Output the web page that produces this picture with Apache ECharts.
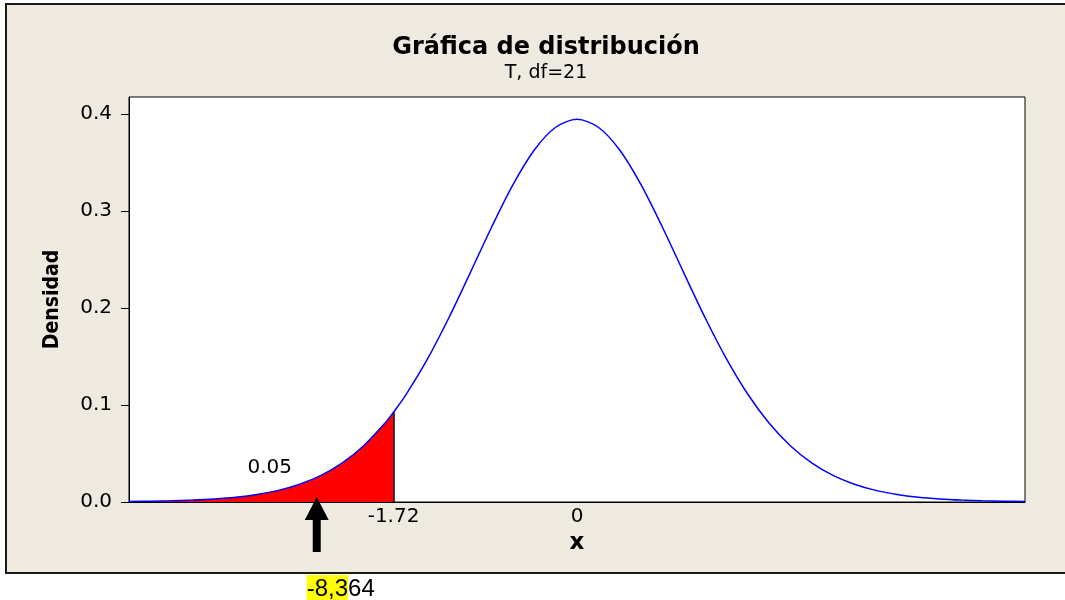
<!DOCTYPE html>
<html>
<head>
<meta charset="utf-8">
<script src="https://cdn.jsdelivr.net/npm/echarts@6/dist/echarts.min.js"></script>
<style>
html,body{margin:0;padding:0;background:#ffffff;}
#c{width:1065px;height:600px;}
</style>
</head>
<body>
<div id="c"></div>
<script>
// ---- data ----
const xValues = [-4.2,-4.0,-3.8,-3.6,-3.4,-3.2,-3.0,-2.8,-2.6,-2.4,-2.2,-2.0,-1.8,-1.72,-1.6,-1.4,-1.2,-1.0,-0.8,-0.6,-0.4,-0.2,0,0.2,0.4,0.6,0.8,1.0,1.2,1.4,1.6,1.8,2.0,2.2,2.4,2.6,2.8,3.0,3.2,3.4,3.6,3.8,4.0,4.2];
const density = [0.0005,0.0008,0.0012,0.0020,0.0032,0.0050,0.0078,0.0120,0.0183,0.0274,0.0403,0.0580,0.0814,0.0926,0.1113,0.1478,0.1902,0.2365,0.2835,0.3272,0.3629,0.3863,0.3945,0.3863,0.3629,0.3272,0.2835,0.2365,0.1902,0.1478,0.1113,0.0814,0.0580,0.0403,0.0274,0.0183,0.0120,0.0078,0.0050,0.0032,0.0020,0.0012,0.0008,0.0005];
const criticalValue = [-1.72];
const criticalDensity = [0.0926];
const xTickLabels = [-1.72, 0];
const yTicks = [0, 0.1, 0.2, 0.3, 0.4];
const areaLabel = ['0.05'];
const areaLabelPos = [[-2.88, 0.035]];
const arrowAt = [-2.44];
const noteText = ['-8,3', '64'];
const titleText = 'Gráfica de distribución';
const subtitleText = 'T, df=21';
const xName = 'x';
const yName = 'Densidad';

const curve = xValues.map((x, i) => [x, density[i]]);
const shaded = curve.filter(p => p[0] <= criticalValue[0] + 1e-9);

const FONT = "'DejaVu Sans', Verdana, sans-serif";
const chart = echarts.init(document.getElementById('c'), null, {renderer: 'canvas'});

const frame = {
  type: 'rect', z: -10, left: 5, top: 3,
  shape: {width: 1100, height: 569},
  style: {fill: '#EEEAE0', stroke: '#1a1a1a', lineWidth: 2}
};

const option = {
  backgroundColor: '#ffffff',
  animation: false,
  textStyle: {fontFamily: FONT, color: '#000'},
  title: {
    text: titleText,
    subtext: subtitleText,
    left: 541,
    top: 31,
    textAlign: 'center',
    itemGap: 4,
    textStyle: {fontFamily: FONT, fontWeight: 'bold', fontSize: 24, color: '#000'},
    subtextStyle: {fontFamily: FONT, fontSize: 19, color: '#000'}
  },
  graphic: [frame],
  grid: {
    left: 129, top: 97, right: 40, bottom: 98,
    show: true, backgroundColor: '#ffffff', borderColor: '#000', borderWidth: 1
  },
  xAxis: {
    type: 'value', min: -4.2, max: 4.2,
    name: xName, nameLocation: 'middle', nameGap: 22,
    nameTextStyle: {fontFamily: FONT, fontWeight: 'bold', fontSize: 23, color: '#000'},
    axisLine: {show: true, onZero: false, lineStyle: {color: '#000', width: 1}},
    axisTick: {show: false},
    splitLine: {show: false},
    axisLabel: {
      customValues: xTickLabels,
      fontFamily: FONT, fontSize: 20, color: '#000', margin: 5,
      formatter: v => (Math.abs(v) < 1e-9 ? '0' : v.toFixed(2))
    }
  },
  yAxis: {
    type: 'value', min: 0, max: 0.4175, interval: 0.1,
    name: yName, nameLocation: 'middle', nameGap: 66,
    nameTextStyle: {fontFamily: "'DejaVu Sans Condensed', 'Liberation Sans Narrow', sans-serif", fontWeight: 'bold', fontSize: 21, color: '#000'},
    axisLine: {show: true, onZero: false, lineStyle: {color: '#000', width: 1}},
    axisTick: {show: true, length: 8, lineStyle: {color: '#000'}, customValues: yTicks},
    splitLine: {show: false},
    axisLabel: {
      customValues: yTicks,
      fontFamily: FONT, fontSize: 20, color: '#000', margin: 17,
      formatter: v => v.toFixed(1)
    }
  },
  series: [
    {
      type: 'line', data: shaded, smooth: 0.3, symbol: 'none', z: 1,
      lineStyle: {width: 0, color: '#FF0000'},
      areaStyle: {color: '#FF0000', opacity: 1},
      markLine: {
        silent: true, symbol: 'none', animation: false,
        label: {show: false},
        lineStyle: {color: '#000', width: 1.5, type: 'solid'},
        data: [[{coord: [criticalValue[0], 0]}, {coord: [criticalValue[0], criticalDensity[0]]}]]
      }
    },
    {
      type: 'line', data: curve, smooth: 0.3, symbol: 'none', z: 3,
      lineStyle: {width: 1.5, color: '#0000FF'}
    },
    {
      type: 'scatter', data: areaLabelPos, symbolSize: 0, z: 4,
      itemStyle: {opacity: 1},
      label: {show: true, position: 'inside', formatter: () => areaLabel[0], fontFamily: FONT, fontSize: 20, color: '#000', opacity: 1}
    }
  ]
};
chart.setOption(option);

// arrow annotation and note under the frame, placed from the data scale
const tip = chart.convertToPixel({xAxisIndex: 0, yAxisIndex: 0}, [arrowAt[0], 0]);
const tx = tip[0], ty = tip[1] - 5;
chart.setOption({
  graphic: [
    frame,
    {
      type: 'polygon', z: 10,
      shape: {points: [[tx, ty], [tx + 12, ty + 23], [tx + 4, ty + 23], [tx + 4, ty + 55], [tx - 4, ty + 55], [tx - 4, ty + 23], [tx - 12, ty + 23]]},
      style: {fill: '#000'}
    },
    {
      type: 'text', z: 10, x: tx - 10, y: 575,
      style: {
        text: '{hl|' + noteText[0] + '}{n|' + noteText[1] + '}',
        rich: {
          hl: {backgroundColor: '#FFFF00', fontFamily: "'Liberation Sans', Arial, sans-serif", fontSize: 24, color: '#000', padding: [2, 0, 2, 0]},
          n: {fontFamily: "'Liberation Sans', Arial, sans-serif", fontSize: 24, color: '#000', padding: [2, 0, 2, 0]}
        }
      }
    }
  ]
}, {replaceMerge: ['graphic']});
</script>
</body>
</html>
